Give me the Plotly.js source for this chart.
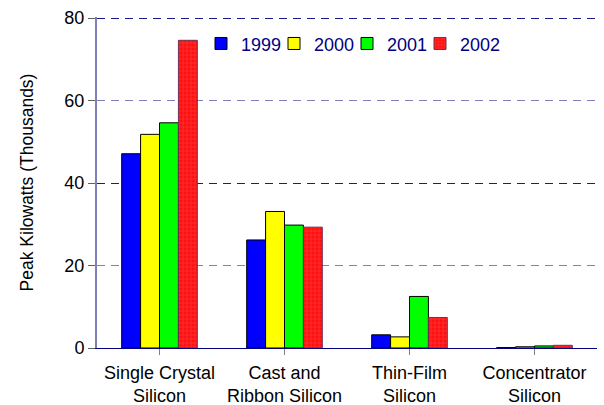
<!DOCTYPE html>
<html><head><meta charset="utf-8">
<script src="https://cdn.plot.ly/plotly-3.0.1.min.js"></script>
<style>html,body{margin:0;padding:0;background:#fff}</style>
</head><body>
<div id="chart" style="width:604px;height:405px"></div>
<script>
const categories = ["Single Crystal<br>Silicon", "Cast and<br>Ribbon Silicon", "Thin-Film<br>Silicon", "Concentrator<br>Silicon"];
const years = ["1999", "2000", "2001", "2002"];
const v1999 = [47.1, 26.2, 3.2, 0.1];
const v2000 = [51.8, 33.1, 2.7, 0.3];
const v2001 = [54.6, 29.8, 12.5, 0.5];
const v2002 = [74.6, 29.3, 7.4, 0.65];
const yTicks = [0, 20, 40, 60, 80];
const darkGridTicks = [40, 80];

const seriesVals = [v1999, v2000, v2001, v2002];
const fills = ["#0000ff", "#ffff00", "#00ff00", "#ff1010"];
const traces = years.map((yr, i) => ({
  type: "bar",
  name: yr,
  x: categories,
  y: seriesVals[i],
  marker: {
    color: fills[i],
    line: {color: i === 3 ? "#703050" : "#000000", width: 1},
    pattern: i === 3 ? {shape: "+", fgcolor: "#ff7070", size: 4, solidity: 0.25, fillmode: "overlay"} : undefined
  }
}));
// helper trace: activates the overlay axis (darker gridlines) and pads the legend
traces.push({
  type: "scatter", mode: "lines", name: " ", x: [categories[0]], y: [null],
  yaxis: "y2", line: {width: 0, color: "rgba(0,0,0,0)"}, hoverinfo: "skip", showlegend: true
});

const layout = {
  width: 604, height: 405,
  margin: {l: 97, r: 7, t: 17, b: 57},
  paper_bgcolor: "#ffffff", plot_bgcolor: "#ffffff",
  font: {family: "Liberation Sans, Arial, sans-serif", size: 18, color: "#000000"},
  barmode: "group",
  bargap: 0.395,
  bargroupgap: 0,
  showlegend: true,
  legend: {
    orientation: "h", x: 0.208, xanchor: "left", y: 0.975, yanchor: "top",
    bgcolor: "rgba(0,0,0,0)", font: {size: 18, color: "#000080"},
    entrywidth: 28, entrywidthmode: "pixels", traceorder: "normal", itemwidth: 30
  },
  xaxis: {
    showline: true, linecolor: "#000080", linewidth: 1,
    ticks: "outside", ticklen: 6, tickcolor: "#808080",
    showgrid: false, tickfont: {size: 18}, ticklabelstandoff: 2
  },
  yaxis: {
    range: [0, 80.25], tickvals: yTicks, ticktext: yTicks.map(String),
    showline: true, linecolor: "#8080b8", linewidth: 2,
    ticks: "outside", ticklen: 7, tickcolor: "#606060",
    showgrid: true, gridcolor: "#8080c0", griddash: "8px,6px", gridwidth: 1,
    zeroline: false, tickfont: {size: 18},
    title: {text: "Peak Kilowatts (Thousands)", font: {size: 17.5}, standoff: 26}
  },
  yaxis2: {
    overlaying: "y", range: [0, 80.25], tickvals: darkGridTicks,
    showticklabels: false, ticks: "", showline: false, zeroline: false,
    showgrid: true, gridcolor: "#1a1a8a", griddash: "8px,6px", gridwidth: 1
  }
};
Plotly.newPlot("chart", traces, layout, {displayModeBar: false, staticPlot: true});
</script>
</body></html>
